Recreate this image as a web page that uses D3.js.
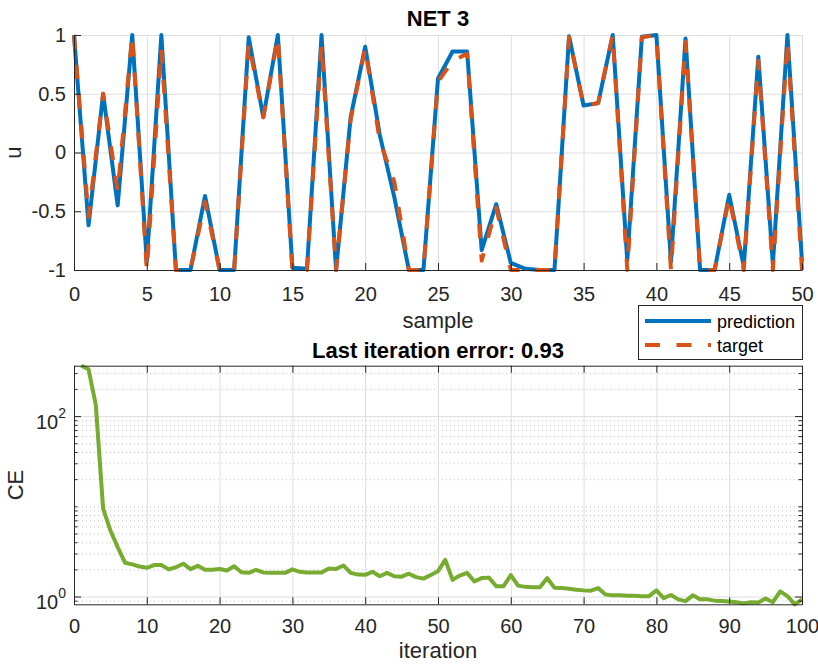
<!DOCTYPE html>
<html>
<head>
<meta charset="utf-8">
<script src="https://cdn.jsdelivr.net/npm/d3@7"></script>
<style>
  body { margin: 0; background: #fff; }
  text { font-family: "Liberation Sans", Arial, Helvetica, sans-serif; }
</style>
</head>
<body>
<svg id="chart" width="818" height="664"></svg>
<script>
// ---- data: network output vs. target over the test samples ----
const samples = d3.range(0, 51);
const prediction = [
  1, -0.62, 0.5, -0.45, 1, -0.93, 1, -1, -1, -0.37,
  -1, -1, 0.98, 0.3, 1, -0.98, -0.99, 1, -1, 0.3,
  0.9, 0.15, -0.38, -1, -1, 0.63, 0.86, 0.86, -0.83, -0.44,
  -0.94, -0.99, -1, -1, 0.99, 0.4, 0.42, 1, -0.92, 0.985,
  1, -0.93, 0.97, -1, -1, -0.36, -0.97, 0.815, -0.95, 1,
  -0.93
];
const target = [
  1, -0.55, 0.5, -0.33, 1, -1, 0.88, -1, -1, -0.42,
  -1, -1, 0.93, 0.3, 0.98, -1, -1, 0.92, -1, 0.28,
  0.89, 0.1, -0.25, -1, -1, 0.6, 0.78, 0.84, -0.92, -0.47,
  -1, -1, -1, -1, 0.98, 0.4, 0.42, 1, -1, 0.98,
  1, -1, 0.94, -1, -1, -0.38, -1, 0.78, -1, 0.95,
  -1
];
const sampleTicks = [0, 5, 10, 15, 20, 25, 30, 35, 40, 45, 50];
const uTicks = [-1, -0.5, 0, 0.5, 1];

// ---- data: training cross-entropy per iteration ----
const iterations = d3.range(1, 101);
const crossEntropy = [
  362, 330, 132, 9.4, 5.4, 3.53, 2.37, 2.27, 2.15, 2.08,
  2.23, 2.24, 2.0, 2.11, 2.31, 2.01, 2.19, 1.98, 1.98, 2.02,
  1.94, 2.17, 1.86, 1.83, 1.98, 1.85, 1.83, 1.83, 1.83, 2.0,
  1.88, 1.85, 1.85, 1.85, 2.05, 2.02, 2.21, 1.83, 1.75, 1.74,
  1.88, 1.68, 1.83, 1.68, 1.66, 1.79, 1.64, 1.58, 1.73, 1.91,
  2.55, 1.53, 1.71, 1.83, 1.47, 1.6, 1.62, 1.3, 1.3, 1.73,
  1.32, 1.28, 1.27, 1.27, 1.6, 1.25, 1.24, 1.22, 1.19, 1.17,
  1.16, 1.24, 1.05, 1.03, 1.03, 1.02, 1.02, 1.01, 1.01, 1.17,
  0.96, 1.04, 0.93, 0.89, 1.03, 0.93, 0.93, 0.9, 0.89, 0.88,
  0.865, 0.84, 0.865, 0.86, 0.95, 0.865, 1.14, 1.01, 0.82, 0.93
];
const iterationTicks = [0, 10, 20, 30, 40, 50, 60, 70, 80, 90, 100];
const ceTicks = [1, 100];
const ceTickExponents = ["0", "2"];
const ceMinorTicks = [0.9, 2, 3, 4, 5, 6, 7, 8, 9, 10, 20, 30, 40, 50, 60, 70, 80, 90, 200, 300];

const legendLabels = ["prediction", "target"];
const netTitle = "NET 3";
const errorTitle = "Last iteration error: " + crossEntropy[crossEntropy.length - 1].toFixed(2);

// ---- styling ----
const COL_PRED = "#0072BD", COL_TGT = "#D95319", COL_CE = "#77AC30";
const AXIS = "#262626", GRID = "#dedede", MINOR = "#c4c4c4";
const FONT = '"Liberation Sans", Arial, Helvetica, sans-serif';
const TICK_LEN = 7;

const svg = d3.select("#chart");

function styleAxis(g, fontSize) {
  g.attr("font-family", FONT).attr("font-size", fontSize);
  g.selectAll("path.domain").attr("stroke", AXIS).attr("stroke-width", 1);
  g.selectAll(".tick line").attr("stroke", AXIS).attr("stroke-width", 1);
  g.selectAll(".tick text").attr("fill", AXIS);
}
function styleGrid(g, color, dash) {
  g.select("path.domain").remove();
  g.selectAll(".tick line").attr("stroke", color).attr("stroke-width", 1)
    .attr("stroke-dasharray", dash || null);
  g.selectAll(".tick text").remove();
}

// =============== upper panel ===============
const T = { left: 74, right: 802, top: 35, bottom: 270 };
const xTop = d3.scaleLinear().domain([0, 50]).range([T.left, T.right]);
const yTop = d3.scaleLinear().domain([-1, 1]).range([T.bottom, T.top]);

const upper = svg.append("g");
upper.append("g").attr("transform", `translate(0,${T.bottom})`)
  .call(d3.axisBottom(xTop).tickValues(sampleTicks).tickSize(-(T.bottom - T.top)).tickFormat(""))
  .call(g => styleGrid(g, GRID));
upper.append("g").attr("transform", `translate(${T.left},0)`)
  .call(d3.axisLeft(yTop).tickValues(uTicks).tickSize(-(T.right - T.left)).tickFormat(""))
  .call(g => styleGrid(g, GRID));

const lineTop = d3.line().x((d, i) => xTop(samples[i])).y(d => yTop(d));
upper.append("path").datum(prediction).attr("d", lineTop)
  .attr("fill", "none").attr("stroke", COL_PRED).attr("stroke-width", 4)
  .attr("stroke-linejoin", "round");
upper.append("path").datum(target).attr("d", lineTop)
  .attr("fill", "none").attr("stroke", COL_TGT).attr("stroke-width", 4)
  .attr("stroke-linejoin", "round").attr("stroke-dasharray", "14,16");

upper.append("g").attr("transform", `translate(0,${T.bottom})`)
  .call(d3.axisBottom(xTop).tickValues(sampleTicks).tickSize(-TICK_LEN).tickSizeOuter(0)
    .tickPadding(17).tickFormat(d => String(d)))
  .call(g => styleAxis(g, 20));
upper.append("g").attr("transform", `translate(${T.left},0)`)
  .call(d3.axisLeft(yTop).tickValues(uTicks).tickSize(-TICK_LEN).tickSizeOuter(0)
    .tickPadding(8).tickFormat(d => String(d)))
  .call(g => styleAxis(g, 20));

svg.append("text").attr("x", (T.left + T.right) / 2).attr("y", 26)
  .attr("text-anchor", "middle").attr("font-size", 22).attr("font-weight", "bold")
  .attr("fill", "#000").text(netTitle);
svg.append("text").attr("x", (T.left + T.right) / 2).attr("y", 328)
  .attr("text-anchor", "middle").attr("font-size", 22).attr("fill", AXIS).text("sample");
svg.append("text").attr("transform", `translate(21,${(T.top + T.bottom) / 2}) rotate(-90)`)
  .attr("text-anchor", "middle").attr("font-size", 22).attr("fill", AXIS).text("u");

// =============== lower panel ===============
const B = { left: 74, right: 802, top: 365.7, bottom: 604.3 };
const xBot = d3.scaleLinear().domain([0, 100]).range([B.left, B.right]);
const yBot = d3.scaleLog().domain(d3.extent(crossEntropy)).range([B.bottom, B.top]);

const lower = svg.append("g");
lower.append("g").attr("transform", `translate(${B.left},0)`)
  .call(d3.axisLeft(yBot).tickValues(ceMinorTicks).tickSize(-(B.right - B.left)).tickFormat(""))
  .call(g => styleGrid(g, MINOR, "1,3"));
lower.append("g").attr("transform", `translate(${B.left},0)`)
  .call(d3.axisLeft(yBot).tickValues(ceTicks).tickSize(-(B.right - B.left)).tickFormat(""))
  .call(g => styleGrid(g, GRID));
lower.append("g").attr("transform", `translate(0,${B.bottom})`)
  .call(d3.axisBottom(xBot).tickValues(iterationTicks).tickSize(-(B.bottom - B.top)).tickFormat(""))
  .call(g => styleGrid(g, GRID));

const lineBot = d3.line().x((d, i) => xBot(iterations[i])).y(d => yBot(d));
lower.append("path").datum(crossEntropy).attr("d", lineBot)
  .attr("fill", "none").attr("stroke", COL_CE).attr("stroke-width", 4)
  .attr("stroke-linejoin", "round");

// box with inward ticks on all four sides
lower.append("g").attr("transform", `translate(0,${B.bottom})`)
  .call(d3.axisBottom(xBot).tickValues(iterationTicks).tickSize(-TICK_LEN).tickSizeOuter(0)
    .tickPadding(15).tickFormat(d => String(d)))
  .call(g => styleAxis(g, 20));
lower.append("g").attr("transform", `translate(0,${B.top})`)
  .call(d3.axisTop(xBot).tickValues(iterationTicks).tickSize(-TICK_LEN).tickSizeOuter(0).tickFormat(""))
  .call(g => styleAxis(g, 20));
lower.append("g").attr("transform", `translate(${B.right},0)`)
  .call(d3.axisRight(yBot).tickValues(ceTicks).tickSize(-TICK_LEN).tickSizeOuter(0).tickFormat(""))
  .call(g => styleAxis(g, 20));
lower.append("g").attr("transform", `translate(${B.right},0)`)
  .call(d3.axisRight(yBot).tickValues(ceMinorTicks).tickSize(-TICK_LEN / 2).tickSizeOuter(0).tickFormat(""))
  .call(g => styleAxis(g, 20));
lower.append("g").attr("transform", `translate(${B.left},0)`)
  .call(d3.axisLeft(yBot).tickValues(ceMinorTicks).tickSize(-TICK_LEN / 2).tickSizeOuter(0).tickFormat(""))
  .call(g => styleAxis(g, 20));
const yAxisBot = lower.append("g").attr("transform", `translate(${B.left},0)`)
  .call(d3.axisLeft(yBot).tickValues(ceTicks).tickSize(-TICK_LEN).tickSizeOuter(0)
    .tickPadding(8).tickFormat(""))
  .call(g => styleAxis(g, 20));
// power-of-ten labels with superscript exponent
yAxisBot.selectAll(".tick").each(function (d, i) {
  const t = d3.select(this).select("text").attr("dy", null).attr("y", 12).attr("x", -8);
  t.append("tspan").attr("font-size", 20).text("10");
  t.append("tspan").attr("font-size", 14).attr("dy", -11).text(ceTickExponents[i]);
});

svg.append("text").attr("x", (B.left + B.right) / 2).attr("y", 358)
  .attr("text-anchor", "middle").attr("font-size", 22).attr("font-weight", "bold")
  .attr("fill", "#000").text(errorTitle);
svg.append("text").attr("x", (B.left + B.right) / 2).attr("y", 658)
  .attr("text-anchor", "middle").attr("font-size", 22).attr("fill", AXIS).text("iteration");
svg.append("text").attr("transform", `translate(23,${(B.top + B.bottom) / 2}) rotate(-90)`)
  .attr("text-anchor", "middle").attr("font-size", 22).attr("fill", AXIS).text("CE");

// =============== legend ===============
const L = { x: 638, y: 305, w: 164, h: 54 };
const legend = svg.append("g");
legend.append("rect").attr("x", L.x + 0.5).attr("y", L.y + 0.5).attr("width", L.w).attr("height", L.h)
  .attr("fill", "#fff").attr("stroke", AXIS).attr("stroke-width", 1);
const legendItems = [
  { label: legendLabels[0], color: COL_PRED, dash: null, y: 321 },
  { label: legendLabels[1], color: COL_TGT, dash: "15,16.5", y: 345 }
];
legendItems.forEach(it => {
  legend.append("line").attr("x1", 645).attr("x2", 711).attr("y1", it.y).attr("y2", it.y)
    .attr("stroke", it.color).attr("stroke-width", 4).attr("stroke-dasharray", it.dash);
  legend.append("text").attr("x", 717).attr("y", it.y + 6.5)
    .attr("font-size", 18).attr("fill", "#000").text(it.label);
});
</script>
</body>
</html>
